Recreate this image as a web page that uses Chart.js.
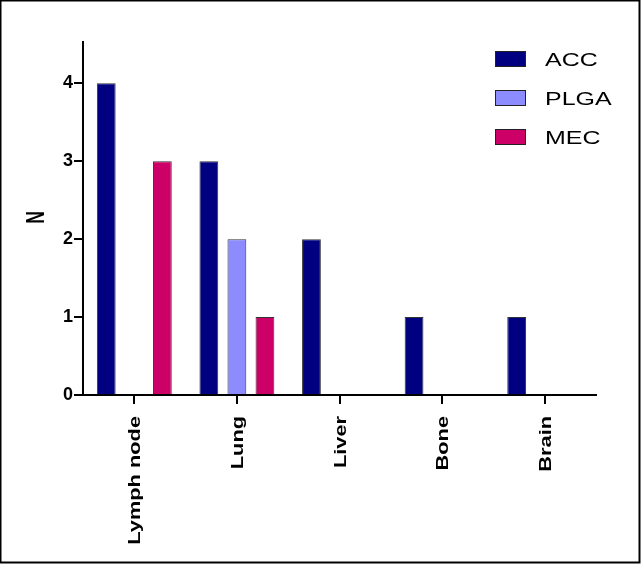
<!DOCTYPE html>
<html>
<head>
<meta charset="utf-8">
<script src="https://cdn.jsdelivr.net/npm/chart.js@4"></script>
<style>
  html, body { margin: 0; padding: 0; background: #fff; }
  #wrap { width: 641px; height: 564px; }
</style>
</head>
<body>
<div id="wrap"><canvas id="myChart" width="641" height="564"></canvas></div>
<script>
// categories on the x axis
const sites = ['Lymph node', 'Lung', 'Liver', 'Bone', 'Brain'];

// counts per tumour type
const accValues = [4, 3, 2, 1, 1];
const plgaValues = [0, 2, 0, 0, 0];
const mecValues = [3, 1, 0, 0, 0];

// y tick values
const yTicks = [0, 1, 2, 3, 4];
const yTitle = 'N';

const FONT = "'Liberation Sans', Arial, sans-serif";

// the original text is drawn stretched, so draw it by hand with a scale
function stretchedText(ctx, text, x, y, angle, sx, font, align, baseline) {
    ctx.save();
    ctx.translate(x, y);
    ctx.rotate(angle);
    ctx.scale(sx, 1);
    ctx.font = font;
    ctx.fillStyle = '#000';
    ctx.textAlign = align;
    ctx.textBaseline = baseline;
    ctx.fillText(text, 0, 0);
    ctx.restore();
}

// legend, axis labels, y title and the outer frame
const extras = {
    id: 'extras',
    afterDraw(chart) {
        const ctx = chart.ctx;
        ctx.save();
        chart.data.datasets.forEach((ds, i) => {
            const y = 59 + i * 39;
            ctx.fillStyle = ds.backgroundColor;
            ctx.fillRect(495, y - 8, 31, 16);
            ctx.strokeStyle = '#222';
            ctx.lineWidth = 1;
            ctx.strokeRect(495.5, y - 7.5, 30, 15);
            stretchedText(ctx, ds.label, 545, y + 7, 0, 1.35, '18.5px ' + FONT, 'left', 'alphabetic');
        });

        const xs = chart.scales.x;
        chart.data.labels.forEach((lab, i) => {
            const px = xs.getPixelForTick(i);
            stretchedText(ctx, lab, px + 1.5, 416, -Math.PI / 2, 1.32, 'bold 16.5px ' + FONT, 'right', 'middle');
        });

        const ys = chart.scales.y;
        stretchedText(ctx, yTitle, 37, (ys.top + ys.bottom) / 2 - 1, -Math.PI / 2, 0.67, 'bold 26px ' + FONT, 'center', 'middle');

        ctx.strokeStyle = '#000';
        ctx.lineWidth = 2;
        ctx.strokeRect(0.5, 0.5, 639, 562);
        ctx.restore();
    }
};

const ctx = document.getElementById('myChart').getContext('2d');

new Chart(ctx, {
    type: 'bar',
    data: {
        labels: sites,
        datasets: [
            { label: 'ACC', data: accValues, backgroundColor: '#000080' },
            { label: 'PLGA', data: plgaValues, backgroundColor: '#8C8CFF' },
            { label: 'MEC', data: mecValues, backgroundColor: '#CC0066' }
        ].map(d => Object.assign(d, {
            borderColor: '#333',
            borderWidth: 1,
            barPercentage: 0.67,
            categoryPercentage: 0.82
        }))
    },
    options: {
        responsive: false,
        animation: false,
        layout: { padding: { top: 42, right: 45, left: 0, bottom: 0 } },
        plugins: { legend: { display: false }, tooltip: { enabled: false } },
        scales: {
            x: {
                grid: { display: true, drawOnChartArea: false, offset: false, color: '#000', lineWidth: 2, tickLength: 9 },
                border: { display: true, color: '#000', width: 2 },
                ticks: { display: false },
                afterFit(scale) { scale.height = 169; }
            },
            y: {
                min: 0,
                max: 4.53,
                grid: { display: true, drawOnChartArea: false, color: '#000', lineWidth: 2, tickLength: 9 },
                border: { display: true, color: '#000', width: 2 },
                ticks: {
                    stepSize: 1,
                    color: '#000',
                    font: { family: FONT, size: 18, weight: 'bold' },
                    padding: 1
                },
                afterBuildTicks(scale) {
                    scale.ticks = yTicks.map(v => ({ value: v }));
                },
                afterFit(scale) { scale.width = 83; }
            }
        }
    },
    plugins: [extras]
});
</script>
</body>
</html>
